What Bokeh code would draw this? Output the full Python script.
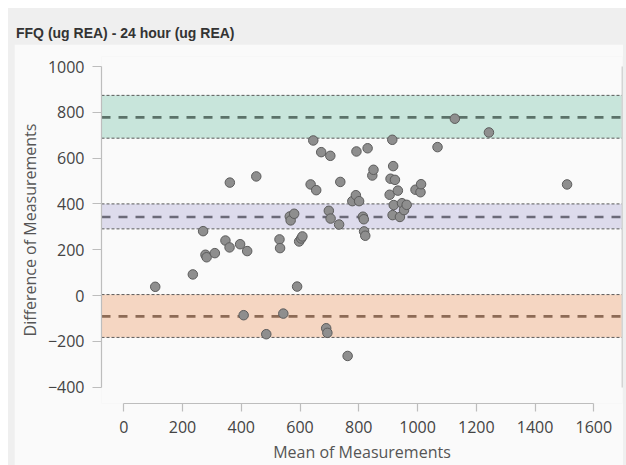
from bokeh.plotting import figure
from bokeh.models import Range1d, LinearAxis, BoxAnnotation, Span, Div, FixedTicker, Spacer
from bokeh.layouts import column, row
from bokeh.embed import file_html
from bokeh.resources import INLINE

title_text = "FFQ (ug REA) - 24 hour (ug REA)"
x_label = "Mean of Measurements"
y_label = "Difference of Measurements"

# Bland-Altman points: mean of the two methods, and their difference
mean_vals = [107, 235, 270, 278, 282, 310, 346, 360, 361, 396,
             408, 420, 451, 485, 530, 532, 543, 565, 568, 580,
             590, 597, 604, 608, 636, 645, 655, 672, 689, 693,
             698, 703, 704, 733, 737, 762, 778, 790, 792, 801,
             814, 817, 818, 822, 830, 846, 850, 905, 908, 914,
             915, 917, 919, 923, 933, 940, 947, 954, 963, 993,
             1010, 1012, 1068, 1127, 1243, 1509]
diff_vals = [38, 92, 281, 178, 167, 185, 240, 210, 493, 224,
             -86, 194, 520, -169, 245, 207, -79, 345, 328, 357,
             39, 236, 249, 258, 485, 677, 460, 626, -143, -163,
             370, 610, 336, 310, 496, -264, 412, 438, 629, 412,
             344, 333, 280, 261, 643, 524, 549, 440, 510, 680,
             351, 565, 395, 505, 458, 343, 403, 373, 396, 462,
             451, 486, 648, 772, 712, 485]

bias = 343
bias_ci = [291, 400]
upper_loa = 778
upper_ci = [687, 874]
lower_loa = -91
lower_ci = [-183, 4]

x_ticks = [0, 200, 400, 600, 800, 1000, 1200, 1400, 1600]
y_ticks = [-400, -200, 0, 200, 400, 600, 800, 1000]

TICK_FONT = "Open Sans"
LABEL_FONT = "Open Sans"

p = figure(width=609, height=421,
           x_range=Range1d(-75.9, 1697.7), y_range=Range1d(-471.6, 1043.7),
           output_backend="svg", toolbar_location=None,
           min_border_left=87, min_border_right=1, min_border_top=12, min_border_bottom=62,
           background_fill_color="#fafafa", border_fill_color="#fafafa",
           outline_line_color=None, margin=0)
p.grid.visible = False

bands = [
    (upper_ci, upper_loa, "#c8e5db", "#5b7269"),
    (bias_ci, bias, "#dddbec", "#6b6a78"),
    (lower_ci, lower_loa, "#f5d6c2", "#8d6b56"),
]
for ci, mid, fill, dark in bands:
    p.add_layout(BoxAnnotation(bottom=ci[0], top=ci[1], fill_color=fill, fill_alpha=1.0,
                               line_color=None, level="underlay"))
    for edge in ci:
        p.add_layout(Span(location=edge, dimension="width", line_color="#5a5a5a",
                          line_dash="3 2", line_width=1, level="underlay"))
    p.add_layout(Span(location=mid, dimension="width", line_color=dark,
                      line_dash="9 8", line_width=2.6, level="underlay"))

p.scatter(mean_vals, diff_vals, size=9.5, fill_color="#8e8e8e", line_color="#5c5c5c",
          line_width=1)

for ax in (p.xaxis[0], p.yaxis[0]):
    ax.axis_line_color = "#bdbdbd"
    ax.axis_line_width = 1.2
    ax.major_tick_line_color = "#bdbdbd"
    ax.major_tick_line_width = 1.2
    ax.major_tick_in = 0
    ax.minor_tick_line_color = None
    ax.major_label_text_font = TICK_FONT
    ax.major_label_text_font_size = "16px"
    ax.major_label_text_color = "#444444"
    ax.axis_label_text_font = LABEL_FONT
    ax.axis_label_text_font_size = "16px"
    ax.axis_label_text_font_style = "normal"
    ax.axis_label_text_color = "#555555"

p.xaxis.ticker = FixedTicker(ticks=x_ticks)
p.yaxis.ticker = FixedTicker(ticks=y_ticks)
p.xaxis.bounds = (x_ticks[0], x_ticks[-1])
p.yaxis.bounds = (y_ticks[0], y_ticks[-1])
p.xaxis.axis_label = x_label
p.yaxis.axis_label = y_label
p.xaxis.major_tick_out = 8
p.yaxis.major_tick_out = 9
p.xaxis.major_label_standoff = 9
p.yaxis.major_label_standoff = 8
p.xaxis.axis_label_standoff = 5
p.yaxis.axis_label_standoff = 4

right = LinearAxis(ticker=FixedTicker(ticks=[]), bounds=(y_ticks[0], y_ticks[-1]),
                   axis_line_color="#d4d4d4", axis_line_width=2,
                   major_tick_out=0, major_tick_in=0, minor_tick_out=0, minor_tick_in=0,
                   major_label_standoff=0)
p.add_layout(right, "right")

title_div = Div(
    text=('<div style="padding:15px 0 0 8px; font-family:\'Liberation Sans\'; '
          'font-weight:bold; font-size:14px; color:#333333; white-space:nowrap;">'
          + title_text + '</div>'),
    width=618, height=36, margin=0)

body = row(Spacer(width=6, height=421, margin=0), p, Spacer(width=3, height=421, margin=0),
           spacing=0, margin=0)
page = column(title_div, body, spacing=0, margin=(8, 0, 0, 8),
              styles={"background-color": "#efefef"})

open("out.html", "w").write(file_html(page, INLINE))
